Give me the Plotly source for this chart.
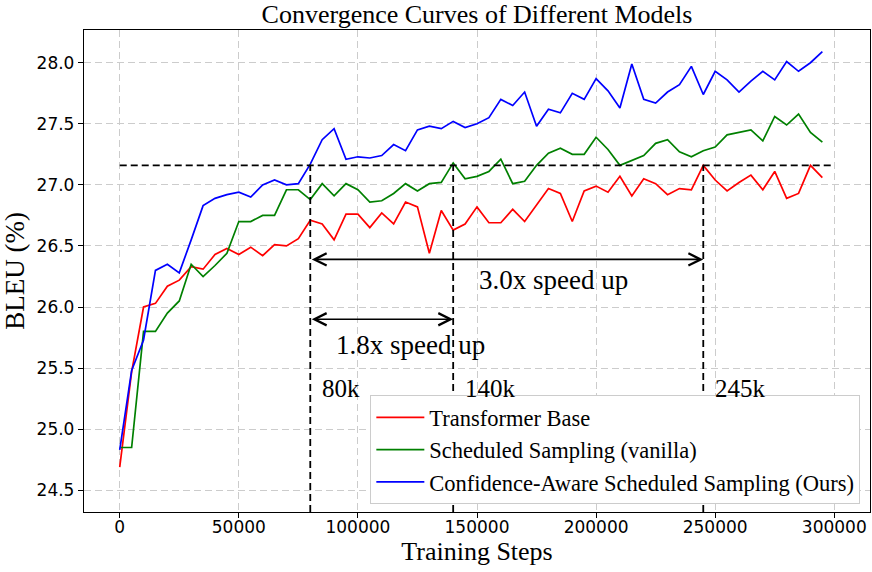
import plotly.graph_objects as go

# ---------------- data ----------------
steps = [0, 5000, 10000, 15000, 20000, 25000, 30000, 35000, 40000, 45000,
         50000, 55000, 60000, 65000, 70000, 75000, 80000, 85000, 90000, 95000,
         100000, 105000, 110000, 115000, 120000, 125000, 130000, 135000, 140000, 145000,
         150000, 155000, 160000, 165000, 170000, 175000, 180000, 185000, 190000, 195000,
         200000, 205000, 210000, 215000, 220000, 225000, 230000, 235000, 240000, 245000,
         250000, 255000, 260000, 265000, 270000, 275000, 280000, 285000, 290000, 295000]

transformer_base = [24.69, 25.47, 26.00, 26.03, 26.17, 26.22, 26.33, 26.31, 26.43, 26.48,
                    26.43, 26.49, 26.42, 26.51, 26.50, 26.56, 26.71, 26.68, 26.55, 26.76,
                    26.76, 26.65, 26.77, 26.68, 26.86, 26.82, 26.44, 26.79, 26.63, 26.68,
                    26.82, 26.69, 26.69, 26.80, 26.70, 26.84, 26.97, 26.93, 26.70, 26.95,
                    26.99, 26.94, 27.07, 26.91, 27.05, 27.01, 26.92, 26.97, 26.96, 27.16,
                    27.04, 26.95, 27.02, 27.08, 26.96, 27.11, 26.89, 26.93, 27.16, 27.06]

scheduled_vanilla = [24.85, 24.85, 25.80, 25.80, 25.95, 26.05, 26.35, 26.25, 26.34, 26.44,
                     26.70, 26.70, 26.75, 26.75, 26.96, 26.96, 26.88, 27.01, 26.91, 27.01,
                     26.96, 26.86, 26.87, 26.93, 27.01, 26.95, 27.01, 27.02, 27.18, 27.05,
                     27.07, 27.11, 27.21, 27.01, 27.03, 27.16, 27.26, 27.30, 27.25, 27.25,
                     27.39, 27.29, 27.16, 27.20, 27.24, 27.34, 27.37, 27.27, 27.23, 27.28,
                     27.31, 27.41, 27.43, 27.45, 27.36, 27.56, 27.49, 27.58, 27.43, 27.35]

confidence_aware = [24.83, 25.48, 25.73, 26.30, 26.35, 26.28, 26.55, 26.83, 26.89, 26.92,
                    26.94, 26.90, 27.00, 27.04, 27.00, 27.01, 27.17, 27.37, 27.46, 27.21,
                    27.23, 27.22, 27.24, 27.33, 27.28, 27.45, 27.48, 27.46, 27.52, 27.47,
                    27.50, 27.55, 27.70, 27.65, 27.76, 27.48, 27.62, 27.59, 27.75, 27.70,
                    27.87, 27.77, 27.63, 27.99, 27.70, 27.67, 27.76, 27.82, 27.97, 27.74,
                    27.93, 27.86, 27.76, 27.85, 27.93, 27.86, 28.01, 27.93, 28.00, 28.09]

series_names = ["Transformer Base", "Scheduled Sampling (vanilla)",
                "Confidence-Aware Scheduled Sampling (Ours)"]
series_colors = ["#ff0000", "#008000", "#0000ff"]

target_bleu = 27.16
milestone_steps = [80000, 140000, 245000]
milestone_labels = ["80k", "140k", "245k"]
speedup_labels = ["1.8x speed up", "3.0x speed up"]

x_ticks = [0, 50000, 100000, 150000, 200000, 250000, 300000]
y_ticks = [24.5, 25.0, 25.5, 26.0, 26.5, 27.0, 27.5, 28.0]

x_range = [-15000, 315000]
y_range = [24.322, 28.268]

SERIF = "Liberation Serif, Times New Roman, serif"
SANS = "DejaVu Sans, sans-serif"

fig = go.Figure()

for name, vals, col in zip(series_names,
                           [transformer_base, scheduled_vanilla, confidence_aware],
                           series_colors):
    fig.add_trace(go.Scatter(x=steps, y=vals, mode="lines", name=name,
                             line=dict(color=col, width=1.7)))

dash_line = dict(color="black", width=1.8, dash="7px,4px")
# horizontal target line
fig.add_trace(go.Scatter(x=[steps[0], x_ticks[-1]], y=[target_bleu, target_bleu],
                         mode="lines", line=dash_line, showlegend=False, hoverinfo="skip"))
# vertical milestone lines
for m in milestone_steps:
    fig.add_trace(go.Scatter(x=[m, m], y=[y_range[0], target_bleu], mode="lines",
                             line=dash_line, showlegend=False, hoverinfo="skip"))

annotations = []
# double arrows
arrow_specs = [(milestone_steps[0], milestone_steps[1], 25.90),
               (milestone_steps[0], milestone_steps[2], 26.39)]
for a, b, yv in arrow_specs:
    annotations.append(dict(x=b, y=yv, ax=a, ay=yv, xref="x", yref="y",
                            axref="x", ayref="y", text="", showarrow=True,
                            arrowside="end+start", arrowhead=5, startarrowhead=5,
                            arrowsize=1.5, startarrowsize=1.5, arrowwidth=1.6,
                            arrowcolor="black", standoff=0, startstandoff=0))
# speed-up texts
annotations.append(dict(x=122000, y=25.69, xref="x", yref="y", text=speedup_labels[0],
                        showarrow=False, font=dict(family=SERIF, size=27, color="black")))
annotations.append(dict(x=182000, y=26.22, xref="x", yref="y", text=speedup_labels[1],
                        showarrow=False, font=dict(family=SERIF, size=27, color="black")))
# milestone labels
for m, lab in zip(milestone_steps, milestone_labels):
    annotations.append(dict(x=m + 4000, y=25.33, xref="x", yref="y", text=lab,
                            xanchor="left", showarrow=False,
                            font=dict(family=SERIF, size=25, color="black")))

axis_common = dict(showline=True, linecolor="black", linewidth=1.3, mirror=True,
                   ticks="outside", ticklen=5, tickwidth=1.2, tickcolor="black",
                   showgrid=True, gridcolor="#cccccc", gridwidth=1, griddash="7px,4px",
                   zeroline=False, automargin=False,
                   tickfont=dict(family=SANS, size=17, color="black"))

fig.update_layout(
    width=872, height=572,
    margin=dict(l=84, r=2, t=30, b=60),
    paper_bgcolor="white", plot_bgcolor="white",
    title=dict(text="Convergence Curves of Different Models", x=0.5, xref="paper",
               xanchor="center", y=1 - 14 / 572, yref="container", yanchor="middle",
               font=dict(family=SERIF, size=26, color="black")),
    xaxis=dict(range=x_range, tickvals=x_ticks, tickformat="d", ticklabelstandoff=-6,
               title=dict(text="Training Steps", standoff=6,
                          font=dict(family=SERIF, size=26, color="black")),
               **axis_common),
    yaxis=dict(range=y_range, tickvals=y_ticks, tickformat=".1f",
               title=dict(text="BLEU (%)", standoff=8,
                          font=dict(family=SERIF, size=27, color="black")),
               **axis_common),
    legend=dict(x=0.9877, y=0.016, xanchor="right", yanchor="bottom",
                bgcolor="white", bordercolor="#cccccc", borderwidth=1,
                font=dict(family=SERIF, size=22.5, color="black"),
                itemwidth=48, tracegroupgap=0),
    annotations=annotations,
    showlegend=True,
)

fig.write_html("out.html", config={"displayModeBar": False},
               post_script="document.body.style.margin='0';")
